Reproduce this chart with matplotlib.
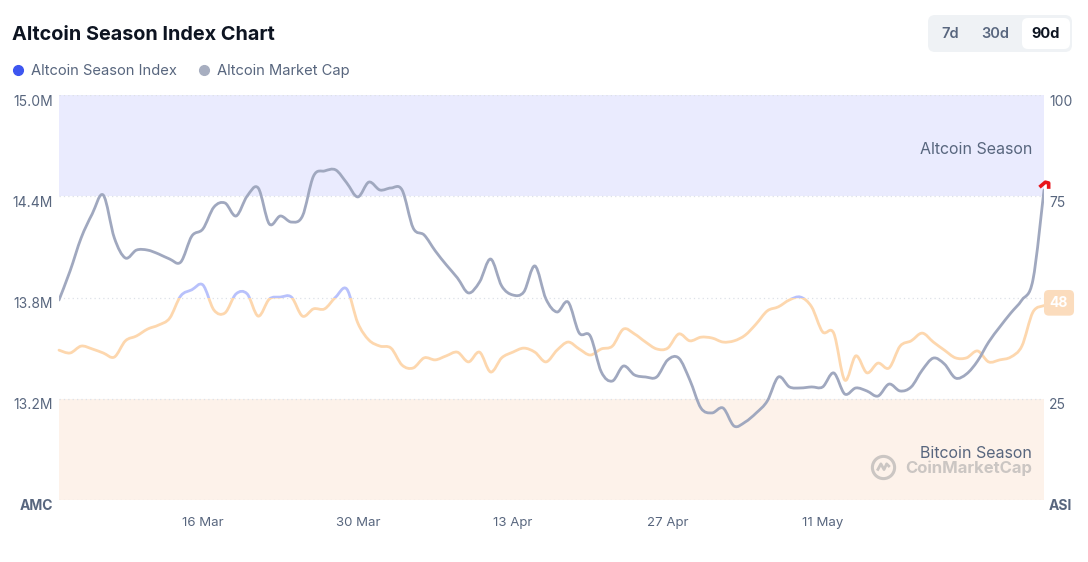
import matplotlib
matplotlib.use('Agg')
import matplotlib.pyplot as plt
import matplotlib.dates as mdates
import matplotlib.transforms as mtransforms
from matplotlib.patches import FancyBboxPatch, Rectangle, PathPatch
from matplotlib.lines import Line2D
from matplotlib.path import Path
import numpy as np
import pandas as pd

plt.rcParams['font.family'] = ['Inter', 'DejaVu Sans']

# Data (90 daily points)
dates = pd.date_range('2025-03-03', periods=90, freq='D')

# Altcoin market cap, left axis (M)
market_cap = [13.785, 13.957, 14.153, 14.295, 14.407, 14.153, 14.034, 14.081, 14.081, 14.058,
              14.028, 14.010, 14.164, 14.206, 14.336, 14.360, 14.283, 14.401, 14.449, 14.236,
              14.283, 14.247, 14.283, 14.520, 14.550, 14.556, 14.479, 14.396, 14.484, 14.437,
              14.449, 14.437, 14.212, 14.170, 14.076, 13.993, 13.916, 13.827, 13.892, 14.028,
              13.868, 13.815, 13.833, 13.987, 13.791, 13.714, 13.773, 13.590, 13.572, 13.359,
              13.305, 13.394, 13.341, 13.329, 13.329, 13.430, 13.441, 13.311, 13.145, 13.116,
              13.145, 13.038, 13.062, 13.116, 13.187, 13.329, 13.270, 13.264, 13.270, 13.270,
              13.353, 13.228, 13.264, 13.246, 13.216, 13.287, 13.246, 13.270, 13.370, 13.441,
              13.406, 13.323, 13.347, 13.424, 13.536, 13.625, 13.708, 13.785, 13.904, 14.437]

# Altcoin season index, right axis (0-100)
season_index = [37.0, 36.3, 38.0, 37.3, 36.3, 35.3, 39.3, 40.5, 42.2, 43.2,
                44.9, 50.4, 51.9, 53.1, 46.9, 46.2, 50.9, 50.9, 45.4, 49.6,
                50.1, 50.1, 45.4, 47.2, 47.2, 50.1, 52.1, 43.7, 39.5, 38.0,
                37.5, 33.3, 32.6, 35.1, 34.6, 35.6, 36.5, 34.1, 36.5, 31.6,
                35.1, 36.5, 37.5, 36.5, 34.1, 37.0, 39.0, 37.3, 35.8, 37.3,
                38.0, 42.2, 41.0, 39.0, 37.3, 37.5, 41.0, 39.3, 40.2, 40.0,
                39.0, 39.3, 40.7, 43.5, 46.7, 47.7, 49.4, 50.1, 47.7, 41.5,
                41.2, 29.6, 35.6, 31.4, 33.8, 32.6, 38.0, 39.3, 41.2, 39.0,
                37.0, 35.1, 35.1, 36.8, 34.1, 34.6, 35.3, 38.0, 46.4, 48.0]

cap_ticks = [12.6, 13.2, 13.8, 14.4, 15.0]
cap_labels = ['AMC', '13.2M', '13.8M', '14.4M', '15.0M']
asi_ticks = [0, 25, 75, 100]
asi_labels = ['ASI', '25', '75', '100']
x_ticks = pd.to_datetime(['2025-03-16', '2025-03-30', '2025-04-13', '2025-04-27', '2025-05-11'])

text_color = '#58667e'


def smooth_path(x, y):
    # bezier curve through every point (catmull-rom control points)
    p = np.column_stack([x, y])
    verts, codes = [p[0]], [Path.MOVETO]
    for i in range(len(p) - 1):
        p0 = p[max(i - 1, 0)]
        p3 = p[min(i + 2, len(p) - 1)]
        c1 = p[i] + (p[i + 1] - p0) / 6
        c2 = p[i + 1] - (p3 - p[i]) / 6
        verts += [c1, c2, p[i + 1]]
        codes += [Path.CURVE4] * 3
    return Path(verts, codes)


fig = plt.figure(figsize=(10.88, 5.62), dpi=100)
ax = fig.add_axes([59 / 1088, 62 / 562, 985 / 1088, 405 / 562])
ax2 = ax.twinx()
ax.set_zorder(ax2.get_zorder() + 1)
ax.patch.set_visible(False)

ax.set_ylim(12.6, 15.0)
ax2.set_ylim(0, 100)
ax.set_xlim(dates[0], dates[-1])

xnum = mdates.date2num(dates)

# season bands and dotted grid
ax2.axhspan(75, 100, color='#eaebfe', lw=0, zorder=0)
ax2.axhspan(0, 25, color='#fdf2ea', lw=0, zorder=0)
for v in [0, 25, 50, 75, 100]:
    ax2.axhline(v, color='#dde1e8', lw=0.9, ls=(0, (1, 2.5)), zorder=1)

# season index line, blue above 50, orange below
blend2 = mtransforms.blended_transform_factory(ax2.transAxes, ax2.transData)
asi_path = smooth_path(xnum, season_index)
lo = ax2.add_patch(PathPatch(asi_path, fill=False, ec='#fdd7ae', lw=2, zorder=2,
                             capstyle='round', joinstyle='round'))
hi = ax2.add_patch(PathPatch(asi_path, fill=False, ec='#b8c1fb', lw=2, zorder=2,
                             capstyle='round', joinstyle='round'))
lo.set_clip_path(Rectangle((-0.05, -10), 1.1, 60, transform=blend2))
hi.set_clip_path(Rectangle((-0.05, 50), 1.1, 60, transform=blend2))

# market cap line
ax.add_patch(PathPatch(smooth_path(xnum, market_cap), fill=False, ec='#a0a8bf', lw=2,
                       zorder=3, capstyle='round', joinstyle='round'))

# red hook at the last point
hook = Path([(-0.6, 0.4), (0.1, 1.0), (0.5, 0.9), (0.5, 0.2)])
ax.plot(dates[-1:], market_cap[-1:], marker=hook, ms=12, mew=2.6, color='#e8141b',
        fillstyle='none', ls='', zorder=4, clip_on=False)

for a in (ax, ax2):
    for s in a.spines.values():
        s.set_visible(False)
    a.set_yticks([])

# axis labels sitting just below their grid lines
blend1 = mtransforms.blended_transform_factory(ax.transAxes, ax.transData)
down = mtransforms.ScaledTranslation(0, -0.065, fig.dpi_scale_trans)
for v, lab in zip(cap_ticks, cap_labels):
    ax.text(-0.006, v, lab, transform=blend1 + down, ha='right', va='center', fontsize=10,
            color=text_color, fontweight='bold' if lab == 'AMC' else 'normal')
for v, lab in zip(asi_ticks, asi_labels):
    ax2.text(1.005, v, lab, transform=blend2 + down, ha='left', va='center', fontsize=10,
             color=text_color, fontweight='bold' if lab == 'ASI' else 'normal')

# current value badge
ax2.annotate(f'{season_index[-1]:.0f}', xy=(1.0, season_index[-1]), xycoords=blend2,
             xytext=(10.8, 2.0), textcoords='offset points', ha='center', va='center',
             fontsize=10, fontweight='bold', color='white',
             bbox=dict(boxstyle='round,pad=0.42,rounding_size=0.35', fc='#fbdcbd', ec='none'))

# x axis
ax.set_xticks(x_ticks)
ax.xaxis.set_major_formatter(mdates.DateFormatter('%d %b'))
ax.tick_params(axis='x', length=0, pad=12, labelsize=9.5, labelcolor=text_color)
ax2.tick_params(axis='x', length=0)

# band captions and watermark
ax2.text(0.988, 86.6, 'Altcoin Season', transform=blend2, ha='right', va='center',
         fontsize=11.5, color=text_color)
ax2.text(0.988, 11.6, 'Bitcoin Season', transform=blend2, ha='right', va='center',
         fontsize=11.5, color=text_color)
ax2.text(0.988, 7.8, 'CoinMarketCap', transform=blend2, ha='right', va='center',
         fontsize=12, fontweight='bold', color='#cbc6c3')
ax2.plot([0.8366], [8.2], transform=blend2, marker='o', ms=16, mfc='none', mec='#cbc6c3',
         mew=2.2, ls='')
wave = Path([(-0.6, -0.3), (-0.25, 0.35), (0.05, -0.2), (0.3, 0.35), (0.6, 0.05)])
ax2.plot([0.8366], [8.2], transform=blend2, marker=wave, ms=9, mfc='none', mec='#cbc6c3',
         mew=2.0, ls='')

# title and legend
fig.text(12 / 1088, 1 - 35 / 562, 'Altcoin Season Index Chart', fontsize=14.3,
         fontweight='bold', color='#0d1421', va='center')
handles = [Line2D([], [], marker='o', ls='', color='#3d56f0', ms=7),
           Line2D([], [], marker='o', ls='', color='#a7aec0', ms=7)]
fig.legend(handles, ['Altcoin Season Index', 'Altcoin Market Cap'], loc='center left',
           bbox_to_anchor=(-4 / 1088, 1 - 71 / 562), ncol=2, frameon=False,
           handletextpad=0.3, columnspacing=1.2, fontsize=10.6, labelcolor=text_color,
           handlelength=1.2)

# period selector
fig.add_artist(FancyBboxPatch((9.28, 5.10), 1.44, 0.37, transform=fig.dpi_scale_trans,
                              boxstyle='round,pad=0,rounding_size=0.07', fc='#eff2f5', ec='none'))
fig.add_artist(FancyBboxPatch((10.22, 5.13), 0.48, 0.31, transform=fig.dpi_scale_trans,
                              boxstyle='round,pad=0,rounding_size=0.06', fc='white', ec='none'))
for xp, lab in [(950, '7d'), (995, '30d'), (1046, '90d')]:
    fig.text(xp / 1088, 1 - 34 / 562, lab, ha='center', va='center', fontsize=10.5,
             fontweight='bold' if lab == '90d' else 'semibold',
             color='#0d1421' if lab == '90d' else text_color)

fig.savefig('out.png', dpi=100)
